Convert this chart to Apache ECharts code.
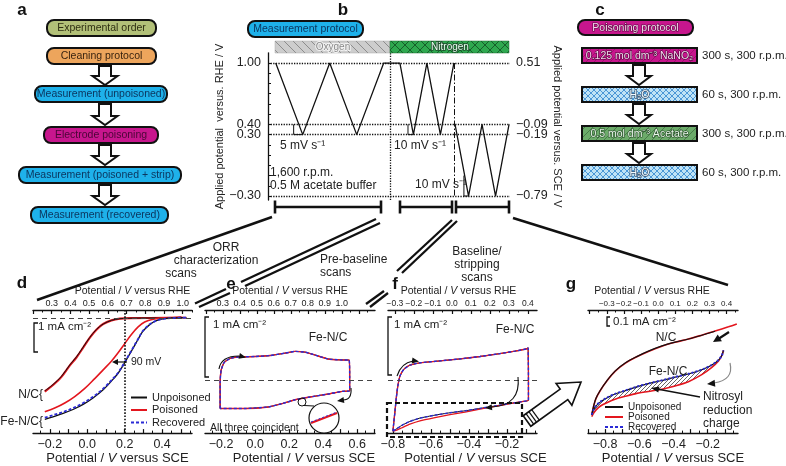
<!DOCTYPE html>
<html>
<head>
<meta charset="utf-8">
<title>Nitrite poisoning protocol</title>
<script src="https://cdn.jsdelivr.net/npm/echarts@6.0.0/dist/echarts.min.js"></script>
<style>
  html, body { margin: 0; padding: 0; background: #fff; }
  #main { width: 786px; height: 466px; }
</style>
</head>
<body>
<div id="main"></div>
<script>
// ---------- values ----------
// b: potential programme, time (s) vs V vs RHE
var bTime = [0, 140, 280, 420, 560, 644, 714, 784, 854, 924];
var bPotential = [1.00, 0.30, 1.00, 0.30, 1.00, 1.00, 0.30, 1.00, 0.30, 1.00];
var bStripTime = [930, 1000, 1070, 1140, 1210];
var bStripPotential = [0.40, -0.30, 0.40, -0.30, 0.40];
var bStepO2 = [[93, 0.40], [93, 0.30], [140, 0.30]];
var bStepN2 = [[686, 0.40], [686, 0.30], [714, 0.30]];
var bStepStrip = [[976, -0.10], [976, -0.30], [1000, -0.30]];
var bGasSwitch = 593;
var bRheTicks = [1.00, 0.40, 0.30, -0.30];
var bSceTicks = [0.51, -0.09, -0.19, -0.79];
var rheOffset = 0.49;

// d: ORR polarisation, V vs SCE / mA cm-2
var dNcX = [-0.227, -0.183, -0.138, -0.094, -0.058, -0.022, 0.013, 0.049, 0.085, 0.129, 0.174, 0.245, 0.424, 0.504];
var dNcUnpoisoned = [-2.60, -2.37, -2.08, -1.68, -1.39, -1.04, -0.70, -0.41, -0.22, -0.09, -0.03, -0.01, 0.00, 0.02];
var dNcPoisoned = [-2.62, -2.39, -2.10, -1.70, -1.41, -1.06, -0.71, -0.42, -0.22, -0.09, -0.03, -0.01, 0.00, 0.02];
var dFeX = [-0.227, -0.183, -0.129, -0.076, -0.022, 0.031, 0.085, 0.129, 0.165, 0.191, 0.218, 0.245, 0.272, 0.298, 0.334, 0.370, 0.414, 0.477, 0.530];
var dFeUnpoisoned = [-3.61, -3.52, -3.40, -3.26, -3.08, -2.85, -2.56, -2.25, -1.97, -1.70, -1.39, -1.08, -0.76, -0.47, -0.24, -0.10, -0.03, 0.00, 0.01];
var dFeRecovered = [-3.55, -3.46, -3.35, -3.21, -3.03, -2.81, -2.52, -2.22, -1.95, -1.68, -1.37, -1.06, -0.75, -0.46, -0.23, -0.10, -0.03, 0.00, 0.01];
var dFePoisonedX = [-0.227, -0.174, -0.120, -0.067, -0.013, 0.040, 0.085, 0.129, 0.165, 0.201, 0.236, 0.272, 0.307, 0.352, 0.405, 0.477, 0.530];
var dFePoisoned = [-3.34, -3.21, -3.03, -2.80, -2.51, -2.16, -1.85, -1.54, -1.24, -0.91, -0.59, -0.32, -0.15, -0.05, 0.00, 0.01, 0.01];

// e: pre-baseline CV (all three coincident)
var eLoop = [[-0.206, -0.494], [-0.206, -0.05], [-0.200, 0.167], [-0.182, 0.300], [-0.147, 0.367], [-0.100, 0.392],
  [0.000, 0.400], [0.088, 0.417], [0.176, 0.458], [0.235, 0.488], [0.294, 0.475], [0.353, 0.425], [0.429, 0.358],
  [0.500, 0.342], [0.553, 0.338], [0.556, 0.033], [0.556, -0.189], [0.512, -0.200], [0.431, -0.244], [0.314, -0.300],
  [0.235, -0.344], [0.157, -0.411], [0.078, -0.467], [-0.059, -0.494], [-0.206, -0.494]];

// f: baseline / stripping CV
var fUpper = [[-0.800, -0.914], [-0.795, -0.741], [-0.789, -0.552], [-0.782, -0.310], [-0.774, -0.103], [-0.763, 0.069],
  [-0.742, 0.190], [-0.711, 0.259], [-0.658, 0.302], [-0.553, 0.336], [-0.447, 0.371], [-0.342, 0.414], [-0.237, 0.466],
  [-0.158, 0.509], [-0.095, 0.552], [-0.089, 0.569], [-0.087, 0.034], [-0.087, -0.362]];
var fLower = [[-0.121, -0.388], [-0.184, -0.422], [-0.263, -0.466], [-0.342, -0.509], [-0.421, -0.552], [-0.500, -0.586],
  [-0.579, -0.629], [-0.658, -0.681], [-0.711, -0.741], [-0.753, -0.810], [-0.784, -0.879], [-0.800, -0.914]];
var fLowerPoisoned = [[-0.121, -0.388], [-0.184, -0.425], [-0.263, -0.472], [-0.342, -0.520], [-0.421, -0.575], [-0.500, -0.620],
  [-0.579, -0.672], [-0.658, -0.730], [-0.711, -0.790], [-0.753, -0.853], [-0.784, -0.900], [-0.800, -0.914]];

// g: cathodic sweeps, zoomed
var gNcX = [-0.878, -0.868, -0.854, -0.829, -0.790, -0.742, -0.683, -0.615, -0.547, -0.468, -0.391, -0.313, -0.235, -0.157, -0.079, -0.030];
var gNcPoisoned = [-1.104, -1.000, -0.896, -0.791, -0.666, -0.541, -0.438, -0.354, -0.284, -0.216, -0.166, -0.125, -0.075, -0.021, 0.034, 0.071];
var gNcUnpoisoned = [-1.100, -0.996, -0.892, -0.788, -0.663, -0.538, -0.435, -0.351, -0.281, -0.213, -0.164, -0.124, -0.076, -0.024];
var gFeX = [-0.878, -0.868, -0.854, -0.829, -0.790, -0.742, -0.683, -0.615, -0.547, -0.468, -0.391, -0.313, -0.235, -0.176, -0.137, -0.117, -0.108];
var gFeUnpoisoned = [-1.104, -1.041, -0.991, -0.938, -0.884, -0.834, -0.791, -0.741, -0.700, -0.659, -0.616, -0.575, -0.521, -0.459, -0.396, -0.334, -0.271];
var gFeRecovered = [-1.100, -1.038, -0.988, -0.935, -0.881, -0.831, -0.789, -0.739, -0.698, -0.657, -0.614, -0.573, -0.519, -0.458, -0.396, -0.334, -0.271];
var gFePoisoned = [-1.125, -1.084, -1.041, -0.991, -0.946, -0.900, -0.863, -0.825, -0.800, -0.771, -0.729, -0.675, -0.584, -0.491, -0.409, -0.334, -0.271];

// tick labels
var dSceLabels = [-0.2, 0.0, 0.2, 0.4];
var dRheLabels = [0.3, 0.4, 0.5, 0.6, 0.7, 0.8, 0.9, 1.0];
var eSceLabels = [-0.2, 0.0, 0.2, 0.4, 0.6];
var eRheLabels = [0.3, 0.4, 0.5, 0.6, 0.7, 0.8, 0.9, 1.0];
var fSceLabels = [-0.8, -0.6, -0.4, -0.2];
var fRheLabels = [-0.3, -0.2, -0.1, 0.0, 0.1, 0.2, 0.3, 0.4];
var gSceLabels = [-0.8, -0.6, -0.4, -0.2];
var gRheLabels = [-0.3, -0.2, -0.1, 0.0, 0.1, 0.2, 0.3, 0.4];

// ---------- helpers ----------
var FONT = '"Liberation Sans", Arial, Helvetica, sans-serif';
var INK = '#111', RED = '#e3161e', BLUE = '#2b2bd6';

function fmt(v, d) { return (v < -1e-9 ? '\u2212' : '') + Math.abs(v).toFixed(d); }
function steps(min, max, step) {
  var out = [];
  for (var k = Math.ceil(min / step - 1e-6); k * step <= max + 1e-6; k++) out.push(Math.round(k * step * 1000) / 1000);
  return out;
}
function zip(xs, ys) { return xs.map(function (x, i) { return [x, ys[i]]; }); }
function pattern(w, h, bg, draw) {
  var c = document.createElement('canvas');
  c.width = w; c.height = h;
  var ctx = c.getContext('2d');
  if (bg) { ctx.fillStyle = bg; ctx.fillRect(0, 0, w, h); }
  draw(ctx, w, h);
  return { image: c, repeat: 'repeat' };
}
function diag(color, lw, back) {
  return function (ctx, w, h) {
    ctx.strokeStyle = color; ctx.lineWidth = lw;
    ctx.beginPath();
    if (back) { ctx.moveTo(-1, -1); ctx.lineTo(w + 1, h + 1); ctx.moveTo(w - 1, -1); ctx.lineTo(w + 1, 1); ctx.moveTo(-1, h - 1); ctx.lineTo(1, h + 1); }
    else { ctx.moveTo(-1, h + 1); ctx.lineTo(w + 1, -1); ctx.moveTo(-1, 1); ctx.lineTo(1, -1); ctx.moveTo(w - 1, h + 1); ctx.lineTo(w + 1, h - 1); }
    ctx.stroke();
  };
}
function cross(color, lw) {
  return function (ctx, w, h) { diag(color, lw, true)(ctx, w, h); diag(color, lw, false)(ctx, w, h); };
}
var oxygenFill = pattern(9, 9, '#cdcdcd', diag('#8c8c8c', 1, true));
var nitrogenFill = pattern(10, 10, '#2fa84f', cross('#175e2a', 1));
var waterFill = pattern(6, 6, '#bfe3f6', cross('#3d8fd2', 0.9));
var nitriteFill = pattern(8, 8, '#c7168d', diag('#9a0c6c', 0.8, false));
var acetateFill = pattern(8, 8, '#6cab6a', diag('#3d7040', 0.8, false));
var hatchFill = pattern(4, 4, '#fff', diag('#555', 0.9, false));

var G = [];
function T(x, y, text, o) {
  o = o || {};
  var st = {
    text: text, x: x, y: y,
    font: (o.italic ? 'italic ' : '') + (o.bold ? 'bold ' : '') + (o.size || 12) + 'px ' + FONT,
    fill: o.fill || '#222', align: o.align || 'center', verticalAlign: 'middle',
    textAlign: o.align || 'center', textVerticalAlign: 'middle'
  };
  if (o.stroke) { st.stroke = o.stroke; st.lineWidth = o.lw || 0.6; st.strokeFirst = true; }
  G.push({ type: 'text', z: 100, silent: true, style: st });
}
function L(pts, o) {
  o = o || {};
  G.push({ type: 'polyline', z: 100, silent: true, shape: { points: pts },
    style: { stroke: o.color || INK, lineWidth: o.w || 1, lineDash: o.dash || null, fill: null } });
}
function Bz(x1, y1, cx, cy, x2, y2, o) {
  o = o || {};
  G.push({ type: 'bezierCurve', z: 100, silent: true, shape: { x1: x1, y1: y1, cpx1: cx, cpy1: cy, x2: x2, y2: y2 },
    style: { stroke: o.color || INK, lineWidth: o.w || 1.2, fill: null } });
}
function head(tx, ty, dx, dy, len, wid, color) {
  var m = Math.sqrt(dx * dx + dy * dy); dx /= m; dy /= m;
  var bx = tx - dx * len, by = ty - dy * len, px = -dy, py = dx;
  G.push({ type: 'polygon', z: 101, silent: true,
    shape: { points: [[tx, ty], [bx + px * wid / 2, by + py * wid / 2], [bx - px * wid / 2, by - py * wid / 2]] },
    style: { fill: color || INK } });
}
function box(x, y, w, h, fill, label, o) {
  o = o || {};
  G.push({ type: 'rect', z: 90, silent: true, shape: { x: x, y: y, width: w, height: h, r: o.r === undefined ? 7 : o.r },
    style: { fill: fill, stroke: INK, lineWidth: 2 } });
  T(x + w / 2, y + h / 2 + 0.5, label, { size: o.size || 10.5, fill: o.color || '#222', stroke: o.stroke, lw: o.lw });
}
function hollowDown(cx, y0, h, sw, hw, hh) {
  var y1 = y0 + h - hh;
  G.push({ type: 'polygon', z: 95, silent: true,
    shape: { points: [[cx - sw / 2, y0], [cx + sw / 2, y0], [cx + sw / 2, y1], [cx + hw / 2, y1], [cx, y0 + h], [cx - hw / 2, y1], [cx - sw / 2, y1]] },
    style: { fill: '#fff', stroke: INK, lineWidth: 2, lineJoin: 'miter' } });
}
function tiltedArrow(x0, y0, x1, y1, sw, hw, hh) {
  var dx = x1 - x0, dy = y1 - y0, len = Math.sqrt(dx * dx + dy * dy), c = dx / len, s = dy / len;
  function P(lx, ly) { return [x0 + lx * c - ly * s, y0 + lx * s + ly * c]; }
  G.push({ type: 'polygon', z: 95, silent: true,
    shape: { points: [P(0, -sw / 2), P(len - hh, -sw / 2), P(len - hh, -hw / 2), P(len, 0), P(len - hh, hw / 2), P(len - hh, sw / 2), P(0, sw / 2)] },
    style: { fill: '#fff', stroke: INK, lineWidth: 1.6 } });
  [3.5, 7, 10.5].forEach(function (lx) { L([P(lx, -sw / 2), P(lx, sw / 2)], { w: 1.2 }); });
}

// ---------- panel a ----------
T(22, 10, 'a', { bold: true, size: 17, fill: '#111' });
box(47, 20, 109, 16, '#b2c078', 'Experimental order', { color: '#2f2f12' });
box(47, 48, 109, 16, '#eda55c', 'Cleaning protocol', { color: '#3a2410' });
box(35, 86, 132, 16, '#1eb1ea', 'Measurement (unpoisoned)', { color: '#0c3760' });
box(44, 127, 114, 16, '#c7168d', 'Electrode poisoning', { color: '#4a0636' });
box(19, 167, 162, 16, '#1eb1ea', 'Measurement (poisoned + strip)', { color: '#0c3760' });
box(31, 207, 137, 16, '#1eb1ea', 'Measurement (recovered)', { color: '#0c3760' });
hollowDown(105, 66, 19, 12, 25, 9);
hollowDown(105, 104, 21, 12, 25, 9);
hollowDown(105, 145, 20, 12, 25, 9);
hollowDown(105, 185, 20, 12, 25, 9);

// ---------- panel b decorations ----------
T(343, 10, 'b', { bold: true, size: 17, fill: '#111' });
box(248, 21, 115, 16, '#1eb1ea', 'Measurement protocol', { color: '#0c3760' });
G.push({ type: 'rect', z: 90, silent: true, shape: { x: 275, y: 41, width: 115, height: 12 }, style: { fill: oxygenFill, stroke: '#aaa', lineWidth: 0.5 } });
G.push({ type: 'rect', z: 90, silent: true, shape: { x: 390, y: 41, width: 119, height: 12 }, style: { fill: nitrogenFill, stroke: '#1d6a33', lineWidth: 0.5 } });
T(333, 47.5, 'Oxygen', { size: 10, fill: '#8a8a8a', stroke: '#f2f2f2', lw: 2 });
T(450, 47.5, 'Nitrogen', { size: 10, fill: '#e8fff0', stroke: '#1d4a2a', lw: 1.6 });
T(280, 146, '5 mV s\u207B\u00B9', { align: 'left', size: 12 });
T(394, 146, '10 mV s\u207B\u00B9', { align: 'left', size: 12 });
T(415, 185, '10 mV s\u207B\u00B9', { align: 'left', size: 12 });
T(270, 173, '1,600 r.p.m.', { align: 'left', size: 12 });
T(270, 186, '0.5 M acetate buffer', { align: 'left', size: 12 });
[[275, 381], [400, 452], [456, 509]].forEach(function (br) {
  L([[br[0], 207], [br[1], 207]], { w: 2.6 });
  L([[br[0], 200.5], [br[0], 213.5]], { w: 2.6 });
  L([[br[1], 200.5], [br[1], 213.5]], { w: 2.6 });
});

// connectors
L([[272, 217], [37, 300]], { w: 2.5 });
L([[376, 219], [241, 282]], { w: 2.3 }); L([[380, 223], [245, 286]], { w: 2.3 });
L([[226, 289], [195, 303.5]], { w: 2.3 }); L([[230, 293], [199, 307]], { w: 2.3 });
L([[452, 220], [397, 271]], { w: 2.3 }); L([[457, 221], [402, 273]], { w: 2.3 });
L([[384, 291], [366, 304]], { w: 2.3 }); L([[388, 293], [370, 307]], { w: 2.3 });
L([[513, 218], [728, 285]], { w: 2.5 });
T(226, 248, 'ORR', { size: 12 });
T(216, 261, 'characterization', { size: 12 });
T(181, 274, 'scans', { size: 12 });
T(320, 260, 'Pre-baseline', { align: 'left', size: 12 });
T(320, 273, 'scans', { align: 'left', size: 12 });
T(477, 252, 'Baseline/', { size: 12 });
T(477, 265, 'stripping', { size: 12 });
T(477, 278, 'scans', { size: 12 });

// ---------- panel c ----------
T(600, 10, 'c', { bold: true, size: 17, fill: '#111' });
box(578, 20, 115, 15, '#c7168d', 'Poisoning protocol', { color: '#f7d9ef', stroke: '#5a0a40', lw: 1.2, size: 10.5 });
box(582, 48, 115, 15, nitriteFill, '0.125 mol dm\u207B\u00B3 NaNO\u2082', { r: 0, color: '#f7d9ef', stroke: '#4a0636', lw: 1.2, size: 10.5 });
box(582, 87, 115, 15, waterFill, 'H\u2082O', { r: 0, color: '#f4fbff', stroke: '#3b5a78', lw: 1.6, size: 10.5 });
box(582, 126, 115, 15, acetateFill, '0.5 mol dm\u207B\u00B3 Acetate', { r: 0, color: '#eaf7ea', stroke: '#244a26', lw: 1.2, size: 10.5 });
box(582, 165, 115, 15, waterFill, 'H\u2082O', { r: 0, color: '#f4fbff', stroke: '#3b5a78', lw: 1.6, size: 10.5 });
hollowDown(639, 65, 20, 12, 24, 9);
hollowDown(639, 104, 20, 12, 24, 9);
hollowDown(639, 143, 20, 12, 24, 9);
T(702, 56, '300 s, 300 r.p.m.', { align: 'left', size: 11.5 });
T(702, 95, '60 s, 300 r.p.m.', { align: 'left', size: 11.5 });
T(702, 134, '300 s, 300 r.p.m.', { align: 'left', size: 11.5 });
T(702, 173, '60 s, 300 r.p.m.', { align: 'left', size: 11.5 });

// ---------- panel d-g decorations ----------
T(22, 283, 'd', { bold: true, size: 17, fill: '#111' });
T(231, 284, 'e', { bold: true, size: 17, fill: '#111' });
T(395, 284, 'f', { bold: true, size: 17, fill: '#111' });
T(571, 284, 'g', { bold: true, size: 17, fill: '#111' });
// scale bars
L([[38, 323], [34, 323], [34, 352], [38, 352]], { w: 1.3 });
T(38, 327, '1 mA cm\u207B\u00B2', { align: 'left', size: 11.5 });
L([[209, 317], [205, 317], [205, 377], [209, 377]], { w: 1.3 });
T(213, 325, '1 mA cm\u207B\u00B2', { align: 'left', size: 11.5 });
L([[392, 317], [388, 317], [388, 375], [392, 375]], { w: 1.3 });
T(394, 325, '1 mA cm\u207B\u00B2', { align: 'left', size: 11.5 });
L([[610, 317], [607, 317], [607, 326], [610, 326]], { w: 1.3 });
T(613, 322, '0.1 mA cm\u207B\u00B2', { align: 'left', size: 11.5 });
// d annotations
T(43, 395, 'N/C{', { align: 'right', size: 12 });
T(43, 422, 'Fe-N/C{', { align: 'right', size: 12 });
L([[127, 362], [116, 362]], { w: 1.2 });
head(112, 362, -1, 0, 6, 6);
T(131, 362, '90 mV', { align: 'left', size: 10.5 });
// e annotations
T(328, 338, 'Fe-N/C', { size: 12 });
Bz(219, 369, 221, 356, 239, 356, { w: 1.1 });
head(246, 357.5, 1, 0.25, 7, 6);
Bz(351, 388, 352, 400, 343, 400, { w: 1.1 });
head(337, 401, -1, 0.15, 7, 6);
G.push({ type: 'circle', z: 100, silent: true, shape: { cx: 302, cy: 402, r: 4 }, style: { fill: null, stroke: INK, lineWidth: 1 } });
L([[304, 405.5], [314, 406]], { w: 1 });
G.push({ type: 'circle', z: 100, silent: true, shape: { cx: 324, cy: 418, r: 15 }, style: { fill: '#fff', stroke: INK, lineWidth: 1.2 } });
L([[311, 423], [337, 413]], { w: 2, color: RED });
L([[311, 422], [337, 412]], { w: 1, color: BLUE, dash: [2, 2] });
T(210, 428, 'All three coincident', { align: 'left', size: 10.5 });
// f annotations
T(515, 330, 'Fe-N/C', { size: 12 });
Bz(397, 376, 401, 363, 413, 361, { w: 1.1 });
head(419, 361.5, 1, 0.15, 7, 6);
Bz(518, 377, 521, 405, 492, 407, { w: 1.1 });
head(485, 408, -1, 0.1, 7, 6);
G.push({ type: 'rect', z: 100, silent: true, shape: { x: 387, y: 403, width: 135, height: 34 },
  style: { fill: null, stroke: INK, lineWidth: 2.2, lineDash: [5, 3] } });
tiltedArrow(527, 421, 581, 382, 13, 27, 21);
// g annotations
T(666, 338, 'N/C', { size: 12 });
T(668, 372, 'Fe-N/C', { size: 12 });
T(703, 397, 'Nitrosyl', { align: 'left', size: 12 });
T(703, 411, 'reduction', { align: 'left', size: 12 });
T(703, 424, 'charge', { align: 'left', size: 12 });
L([[700, 397], [657, 389]], { w: 1.3 });
head(651, 388, -1, -0.19, 8, 6);
L([[729, 332], [719, 338.5]], { w: 2.2 });
head(713, 342, -1, 0.62, 8, 8);
Bz(730, 363, 734, 380, 714, 383, { w: 1.2, color: '#888' });
head(707, 384, -1, 0.1, 8, 7);

// ---------- axes ----------
var nameRich = function (size, shift) {
  var st = { fontSize: size, fontFamily: FONT, color: '#222' };
  return {
    padding: shift > 0 ? [0, 0, 0, 2 * shift] : [0, -2 * shift, 0, 0],
    rich: { n: st, i: { fontSize: size, fontFamily: FONT, color: '#222', fontStyle: 'italic' } }
  };
};
var panelDefs = [
  { sce: [-0.29, 0.56], y: [-4.10, 0.28], sceLabels: dSceLabels, rheLabels: dRheLabels, topShift: 20, botShift: 5, topFont: 9 },
  { sce: [-0.295, 0.705], y: [-0.917, 1.2], sceLabels: eSceLabels, rheLabels: eRheLabels, topShift: 0, botShift: 14, topFont: 9 },
  { sce: [-0.826, -0.042], y: [-0.948, 1.241], sceLabels: fSceLabels, rheLabels: fRheLabels, topShift: -4, botShift: 13, topFont: 8.5 },
  { sce: [-0.90, -0.023], y: [-1.3375, 0.25], sceLabels: gSceLabels, rheLabels: gRheLabels, topShift: -11, botShift: 10, topFont: 8 }
];
var grids = [
  { left: 268, top: 52.8, width: 242, height: 147.3 },
  { left: 33, top: 310, width: 159, height: 127 },
  { left: 205, top: 310, width: 170, height: 127 },
  { left: 388, top: 310, width: 149, height: 127 },
  { left: 588, top: 310, width: 150, height: 127 }
];
function bIndex(v) {
  for (var i = 0; i < bRheTicks.length; i++) if (Math.abs(bRheTicks[i] - v) < 1e-6) return i;
  return 0;
}
var xAxes = [{ gridIndex: 0, type: 'value', min: -40, max: 1215, show: false }];
var yAxes = [
  { gridIndex: 0, type: 'value', position: 'left', min: -0.34, max: 1.10,
    axisLine: { show: true, onZero: false, lineStyle: { color: INK, width: 1.3 } },
    axisTick: { show: true, inside: true, length: 3, customValues: steps(-0.3, 1.0, 0.1), lineStyle: { color: INK } },
    axisLabel: { customValues: bRheTicks, formatter: function (v) { return fmt(v, 2); }, fontSize: 12.5, color: '#222', margin: 7, fontFamily: FONT,
      showMinLabel: true, showMaxLabel: true },
    splitLine: { show: false },
    name: 'Applied potential  versus. RHE / V', nameLocation: 'middle', nameRotate: 90, nameGap: 42,
    nameTextStyle: { fontSize: 11, color: '#222', fontFamily: FONT } },
  { gridIndex: 0, type: 'value', position: 'right', min: -0.34, max: 1.10,
    axisLine: { show: false, onZero: false }, axisTick: { show: false },
    axisLabel: { customValues: bRheTicks, formatter: function (v) { return fmt(bSceTicks[bIndex(v)], 2); }, fontSize: 12.5, color: '#222', margin: 6, fontFamily: FONT,
      showMinLabel: true, showMaxLabel: true },
    splitLine: { show: false },
    name: 'Applied potential versus. SCE / V', nameLocation: 'middle', nameRotate: -90, nameGap: 38,
    nameTextStyle: { fontSize: 11, color: '#222', fontFamily: FONT } }
];
panelDefs.forEach(function (p, i) {
  var gi = i + 1, rmin = p.sce[0] + rheOffset, rmax = p.sce[1] + rheOffset;
  var axLine = { show: true, onZero: false, lineStyle: { color: INK, width: 1.4 } };
  xAxes.push({ gridIndex: gi, type: 'value', position: 'bottom', min: p.sce[0], max: p.sce[1],
    axisLine: axLine,
    axisTick: { show: true, inside: true, length: 4, customValues: steps(p.sce[0], p.sce[1], 0.1), lineStyle: { color: INK, width: 1.2 } },
    axisLabel: { customValues: p.sceLabels, formatter: function (v) { return fmt(v, 1); }, fontSize: 12.5, color: '#222', margin: 5, fontFamily: FONT,
      showMinLabel: true, showMaxLabel: true, hideOverlap: false },
    splitLine: { show: false },
    name: '{n|Potential / }{i|V}{n| versus SCE}', nameLocation: 'middle', nameGap: 17, nameTextStyle: nameRich(13, p.botShift) });
  xAxes.push({ gridIndex: gi, type: 'value', position: 'bottom', min: p.sce[0], max: p.sce[1],
    axisLine: { show: false, onZero: false },
    axisTick: { show: true, inside: true, length: 2.5, customValues: steps(p.sce[0], p.sce[1], 0.05), lineStyle: { color: INK } },
    axisLabel: { show: false }, splitLine: { show: false } });
  xAxes.push({ gridIndex: gi, type: 'value', position: 'top', min: rmin, max: rmax,
    axisLine: axLine,
    axisTick: { show: true, inside: true, length: 4, customValues: steps(rmin, rmax, 0.1), lineStyle: { color: INK, width: 1.2 } },
    axisLabel: { customValues: p.rheLabels, formatter: function (v) { return fmt(v, 1); }, fontSize: p.topFont, color: '#222', margin: 2, fontFamily: FONT,
      showMinLabel: true, showMaxLabel: true, hideOverlap: false },
    splitLine: { show: false },
    name: '{n|Potential / }{i|V}{n| versus RHE}', nameLocation: 'middle', nameGap: 13, nameTextStyle: nameRich(10.5, p.topShift) });
  xAxes.push({ gridIndex: gi, type: 'value', position: 'top', min: rmin, max: rmax,
    axisLine: { show: false, onZero: false },
    axisTick: { show: true, inside: true, length: 2.5, customValues: steps(rmin, rmax, 0.05), lineStyle: { color: INK } },
    axisLabel: { show: false }, splitLine: { show: false } });
  yAxes.push({ gridIndex: gi, type: 'value', min: p.y[0], max: p.y[1], show: false });
});

// ---------- series ----------
function curve(name, gi, data, color, width, dash, smooth, extra) {
  var s = { name: name, type: 'line', xAxisIndex: 1 + (gi - 1) * 4, yAxisIndex: gi + 1, data: data,
    symbol: 'none', smooth: smooth || 0, silent: true,
    lineStyle: { color: color, width: width, type: dash || 'solid' }, itemStyle: { color: color } };
  for (var k in extra) s[k] = extra[k];
  return s;
}
var dotted = { type: 'dotted', color: INK, width: 1.3 };
var dashedZero = { type: [5, 4], color: '#444', width: 1 };
function markLines(items, style) {
  return { silent: true, symbol: 'none', label: { show: false }, lineStyle: style, data: items, animation: false };
}

var series = [
  { name: 'protocol', type: 'line', xAxisIndex: 0, yAxisIndex: 0, data: zip(bTime, bPotential), symbol: 'none', silent: true,
    lineStyle: { color: INK, width: 1.3 },
    markLine: markLines(bRheTicks.map(function (v) { return { yAxis: v }; }).concat([{ xAxis: bGasSwitch }]), dotted) },
  { name: 'strip', type: 'line', xAxisIndex: 0, yAxisIndex: 0, data: zip(bStripTime, bStripPotential), symbol: 'none', silent: true,
    lineStyle: { color: INK, width: 1.3 },
    markLine: markLines([[{ coord: [bTime[bTime.length - 1], bPotential[bPotential.length - 1]] }, { coord: [bTime[bTime.length - 1], bStripPotential[1]] }]],
      { type: [6, 2, 1.5, 2], color: INK, width: 1 }) },
  { name: 'stepO2', type: 'line', xAxisIndex: 0, yAxisIndex: 0, data: bStepO2, symbol: 'none', silent: true, lineStyle: { color: INK, width: 1 } },
  { name: 'stepN2', type: 'line', xAxisIndex: 0, yAxisIndex: 0, data: bStepN2, symbol: 'none', silent: true, lineStyle: { color: INK, width: 1 } },
  { name: 'stepStrip', type: 'line', xAxisIndex: 0, yAxisIndex: 0, data: bStepStrip, symbol: 'none', silent: true, lineStyle: { color: INK, width: 1 } },

  // d
  curve('Poisoned', 1, zip(dNcX, dNcPoisoned), RED, 2.2, null, 0.35, {
    markLine: markLines([{ yAxis: 0 }], dashedZero) }),
  curve('Unpoisoned', 1, zip(dNcX, dNcUnpoisoned), INK, 1, null, 0.35, {
    markLine: markLines([{ xAxis: 0.2 }], { type: 'dotted', color: INK, width: 1.6 }) }),
  curve('Poisoned', 1, zip(dFePoisonedX, dFePoisoned), RED, 1.6, null, 0.35),
  curve('Unpoisoned', 1, zip(dFeX, dFeUnpoisoned), INK, 1.3, null, 0.35),
  curve('Recovered', 1, zip(dFeX, dFeRecovered), BLUE, 1.8, [3, 2], 0.35),

  // e
  curve('Unpoisoned', 2, eLoop, INK, 1, null, 0.15, { markLine: markLines([{ yAxis: 0 }], dashedZero) }),
  curve('Poisoned', 2, eLoop, RED, 1.4, null, 0.15),
  curve('Recovered', 2, eLoop, BLUE, 1.4, [3, 2], 0.15),

  // f
  curve('Unpoisoned', 3, fUpper.concat(fLower), INK, 1, null, 0.15, { markLine: markLines([{ yAxis: 0 }], dashedZero) }),
  curve('Poisoned', 3, fUpper.concat(fLowerPoisoned), RED, 1.3, null, 0.15),
  curve('Recovered', 3, fUpper.concat(fLower), BLUE, 1.4, [3, 2], 0.15),

  // g: hatched nitrosyl reduction charge between the Fe-N/C sweeps
  { name: 'charge', type: 'custom', xAxisIndex: 13, yAxisIndex: 5, silent: true, z: 1,
    data: [[gFeX[0], gFeUnpoisoned[0]]],
    renderItem: function (params, api) {
      var pts = gFeX.map(function (x, i) { return api.coord([x, gFeUnpoisoned[i]]); });
      for (var i = gFeX.length - 1; i >= 0; i--) pts.push(api.coord([gFeX[i], gFePoisoned[i]]));
      return { type: 'polygon', shape: { points: pts }, style: { fill: hatchFill, stroke: null } };
    } },
  curve('Poisoned', 4, zip(gNcX, gNcPoisoned), RED, 1.6, null, 0.35),
  curve('Unpoisoned', 4, zip(gNcX.slice(0, gNcUnpoisoned.length), gNcUnpoisoned), INK, 1.2, null, 0.35),
  curve('Poisoned', 4, zip(gFeX, gFePoisoned), RED, 1.6, null, 0.3),
  curve('Unpoisoned', 4, zip(gFeX, gFeUnpoisoned), INK, 1.2, null, 0.3),
  curve('Recovered', 4, zip(gFeX, gFeRecovered), BLUE, 2, [2, 2], 0.3)
];

var legendNames = ['Unpoisoned', 'Poisoned', 'Recovered'];
var chart = echarts.init(document.getElementById('main'), null, { renderer: 'canvas' });
chart.setOption({
  animation: false,
  backgroundColor: '#fff',
  textStyle: { fontFamily: FONT },
  grid: grids,
  xAxis: xAxes,
  yAxis: yAxes,
  legend: [
    { data: legendNames, left: 130, top: 392, orient: 'vertical', itemWidth: 16, itemHeight: 8, itemGap: 1.5, padding: 0,
      selectedMode: false, itemStyle: { opacity: 0 }, textStyle: { fontSize: 11, color: '#222', fontFamily: FONT } },
    { data: legendNames, left: 604, top: 402, orient: 'vertical', itemWidth: 18, itemHeight: 8, itemGap: 0, padding: 0,
      selectedMode: false, itemStyle: { opacity: 0 }, textStyle: { fontSize: 10, color: '#222', fontFamily: FONT } }
  ],
  series: series,
  graphic: G
});
</script>
</body>
</html>
